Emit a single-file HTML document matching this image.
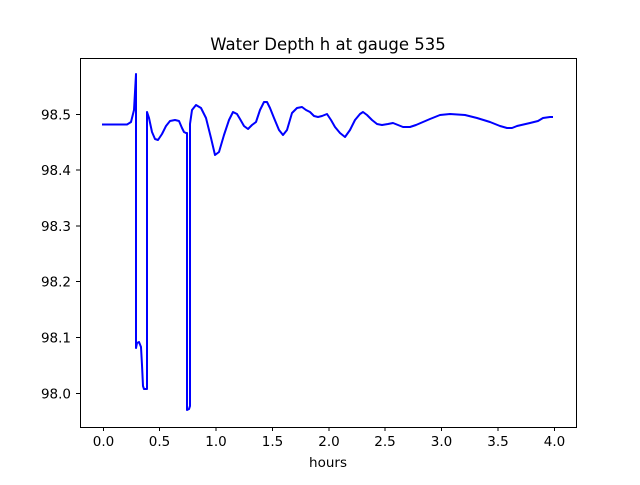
<!DOCTYPE html>
<html><head><style>body{margin:0;background:#fff}</style></head><body>
<svg width="640" height="480" xmlns="http://www.w3.org/2000/svg" font-family="DejaVu Sans, Liberation Sans, sans-serif">
<rect width="640" height="480" fill="#fff"/>
<text x="328" y="50" font-size="16.5" text-anchor="middle">Water Depth h at gauge 535</text>
<polyline fill="none" stroke="#0000ff" stroke-width="2" stroke-linejoin="round" points="
102,124.5 127,124.5 131,122 134,110 136,74 136,348 137,343 139,342 141,347 142,365 143,386 144,389 147,389 147,112 149,118 152,132 155,139 158,140 162,134 166,126 170,121 175,120 179,121 182,128 184,132 186,133 187,133 187,410 189,409 190,406 190,124 192,110 196,105 201,108 206,118 211,138 215,155 219,152 224,135 229,120 233,112 237,114 240,119 244,126 248,129 252,125 256,122 260,110 264,102 267,102 270,108 274,118 279,130 283,135 287,130 292,113 297,108 302,107 306,110 310,112 314,116 318,117 322,116 327,114 331,120 335,127 340,133 345,137 350,130 355,120 360,114 363,112 367,115 372,120 377,124 382,125 388,124 393,123 398,125 403,127 410,127 416,125 423,122 430,119 440,115 450,114 465,115 477,118 490,122 500,126 507,128 512,128 517,126 530,123 538,121 543,118 550,117 553,117"/>
<rect x="80.5" y="58.5" width="496" height="369" fill="none" stroke="#000" stroke-width="1"/>
<g stroke="#000" stroke-width="1">
<line x1="103.5" y1="427" x2="103.5" y2="431"/>
<line x1="159.5" y1="427" x2="159.5" y2="431"/>
<line x1="216" y1="427" x2="216" y2="431"/>
<line x1="272.5" y1="427" x2="272.5" y2="431"/>
<line x1="329" y1="427" x2="329" y2="431"/>
<line x1="385" y1="427" x2="385" y2="431"/>
<line x1="441.5" y1="427" x2="441.5" y2="431"/>
<line x1="498" y1="427" x2="498" y2="431"/>
<line x1="554.5" y1="427" x2="554.5" y2="431"/>
<line x1="76" y1="393.5" x2="80" y2="393.5"/>
<line x1="76" y1="337.5" x2="80" y2="337.5"/>
<line x1="76" y1="281.5" x2="80" y2="281.5"/>
<line x1="76" y1="226" x2="80" y2="226"/>
<line x1="76" y1="170" x2="80" y2="170"/>
<line x1="76" y1="114.5" x2="80" y2="114.5"/>
</g>
<g font-size="13.5" text-anchor="middle">
<text x="103.5" y="446">0.0</text><text x="159.5" y="446">0.5</text><text x="216" y="446">1.0</text>
<text x="272.5" y="446">1.5</text><text x="329" y="446">2.0</text><text x="385" y="446">2.5</text>
<text x="441.5" y="446">3.0</text><text x="498" y="446">3.5</text><text x="554.5" y="446">4.0</text>
<text x="328" y="467">hours</text>
</g>
<g font-size="13.5" text-anchor="end">
<text x="71" y="398.5">98.0</text><text x="71" y="342.5">98.1</text><text x="71" y="286.5">98.2</text>
<text x="71" y="231">98.3</text><text x="71" y="175">98.4</text><text x="71" y="119.5">98.5</text>
</g>
</svg>
</body></html>
